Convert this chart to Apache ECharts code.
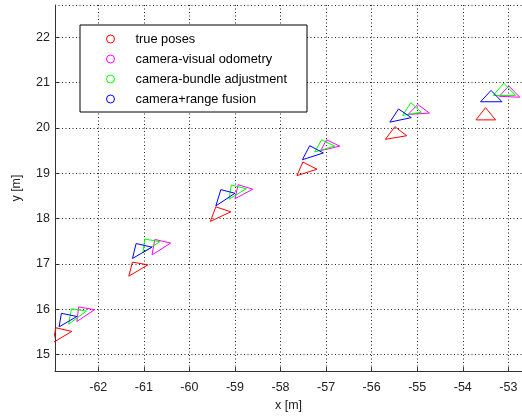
<!DOCTYPE html>
<html>
<head>
<meta charset="utf-8">
<script src="https://cdn.jsdelivr.net/npm/echarts@6/dist/echarts.min.js"></script>
<style>
html,body{margin:0;padding:0;background:#fff;}
#chart{width:522px;height:417px;}
</style>
</head>
<body>
<div id="chart"></div>
<script>
// Series names and colours
const seriesNames = ['true poses', 'camera-visual odometry', 'camera-bundle adjustment', 'camera+range fusion'];
const seriesColors = ['#ff0000', '#ff00ff', '#00ff00', '#0000ff'];

// Pose triangles (data units, x [m], y [m]), three vertices each
const truePoses = [
  [[-62.93, 15.59], [-62.58, 15.51], [-63.00, 15.26]],
  [[-61.25, 17.04], [-60.91, 16.98], [-61.33, 16.73]],
  [[-59.42, 18.26], [-59.09, 18.15], [-59.54, 17.94]],
  [[-57.51, 19.25], [-57.20, 19.09], [-57.64, 18.95]],
  [[-55.49, 20.03], [-55.23, 19.83], [-55.70, 19.75]],
  [[-53.50, 20.45], [-53.71, 20.18], [-53.28, 20.18]]
];
const visualOdometry = [
  [[-62.43, 16.05], [-62.08, 15.99], [-62.47, 15.73]],
  [[-60.76, 17.54], [-60.41, 17.46], [-60.82, 17.20]],
  [[-58.93, 18.75], [-58.61, 18.65], [-59.00, 18.44]],
  [[-56.99, 19.74], [-56.70, 19.60], [-57.12, 19.50]],
  [[-54.99, 20.52], [-54.73, 20.33], [-55.20, 20.30]],
  [[-52.99, 20.93], [-53.20, 20.70], [-52.75, 20.68]]
];
const bundleAdjustment = [
  [[-62.59, 16.01], [-62.26, 15.96], [-62.65, 15.67]],
  [[-60.98, 17.55], [-60.65, 17.49], [-61.02, 17.25]],
  [[-59.08, 18.74], [-58.75, 18.66], [-59.13, 18.43]],
  [[-57.10, 19.74], [-56.81, 19.60], [-57.25, 19.47]],
  [[-55.14, 20.56], [-54.91, 20.35], [-55.32, 20.28]],
  [[-53.10, 20.99], [-53.33, 20.72], [-52.84, 20.72]]
];
const rangeFusion = [
  [[-62.81, 15.91], [-62.47, 15.84], [-62.86, 15.61]],
  [[-61.17, 17.45], [-60.82, 17.37], [-61.25, 17.12]],
  [[-59.31, 18.64], [-59.00, 18.56], [-59.42, 18.28]],
  [[-57.36, 19.61], [-57.06, 19.45], [-57.52, 19.30]],
  [[-55.41, 20.42], [-55.13, 20.23], [-55.60, 20.13]],
  [[-53.38, 20.83], [-53.61, 20.58], [-53.14, 20.58]]
];
const allTriangles = [truePoses, visualOdometry, bundleAdjustment, rangeFusion];

// Axis extents
const xMin = -62.95, xMax = -52.70;
const yMin = 14.634, yMax = 22.716;

function toPolyline(tris) {
  const out = [];
  tris.forEach(function (t) {
    out.push(t[0], t[1], t[2], t[0]);
    out.push('-');
  });
  return out;
}

const font = 'Liberation Sans, Arial, Helvetica, sans-serif';

const chart = echarts.init(document.getElementById('chart'), null, {renderer: 'canvas'});
const option = {
  backgroundColor: '#fff',
  animation: false,
  grid: {left: 55, right: 0, top: 5, bottom: 43, containLabel: false},
  legend: {
    orient: 'vertical',
    left: 80, top: 25,
    padding: [7.5, 20, 6.5, 26],
    itemWidth: 40, itemHeight: 8, itemGap: 7,
    borderColor: '#000', borderWidth: 1,
    backgroundColor: '#fff',
    textStyle: {fontFamily: font, fontSize: 12.8, color: '#000', lineHeight: 13},
    data: seriesNames.map(function (n, i) {
      return {name: n, icon: 'circle', itemStyle: {color: '#fff', borderColor: seriesColors[i], borderWidth: 1}};
    })
  },
  xAxis: {
    type: 'value', min: xMin, max: xMax, splitNumber: 10,
    name: 'x [m]', nameLocation: 'middle', nameGap: 27,
    nameTextStyle: {fontFamily: font, fontSize: 12.5, color: '#222'},
    axisLine: {show: true, onZero: false, lineStyle: {color: '#333', width: 1}},
    axisTick: {show: true, inside: true, length: 4, lineStyle: {color: '#333'}},
    axisLabel: {fontFamily: font, fontSize: 12.5, color: '#222', margin: 10, showMinLabel: false, showMaxLabel: false},
    splitLine: {show: true, lineStyle: {color: '#222', width: 1, type: [1, 2.5]}}
  },
  yAxis: {
    type: 'value', min: yMin, max: yMax, splitNumber: 8,
    name: 'y [m]', nameLocation: 'middle', nameGap: 32, nameRotate: 90,
    nameTextStyle: {fontFamily: font, fontSize: 12.5, color: '#222'},
    axisLine: {show: true, onZero: false, lineStyle: {color: '#333', width: 1}},
    axisTick: {show: true, inside: true, length: 4, lineStyle: {color: '#333'}},
    axisLabel: {fontFamily: font, fontSize: 12.5, color: '#222', margin: 5, showMinLabel: false, showMaxLabel: false},
    splitLine: {show: true, lineStyle: {color: '#222', width: 1, type: [1, 2.5]}}
  },
  series: allTriangles.map(function (tris, i) {
    return {
      name: seriesNames[i],
      type: 'line',
      data: toPolyline(tris),
      symbol: 'none',
      connectNulls: false,
      clip: true,
      color: seriesColors[i],
      itemStyle: {color: seriesColors[i]},
      lineStyle: {color: seriesColors[i], width: 1}
    };
  })
};
chart.setOption(option);
</script>
</body>
</html>
